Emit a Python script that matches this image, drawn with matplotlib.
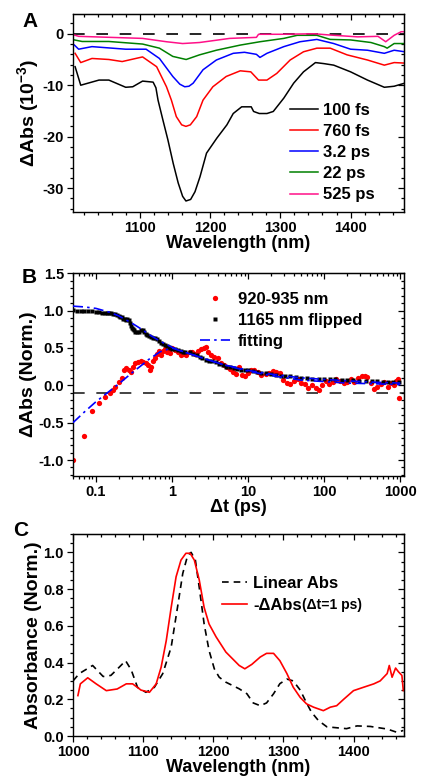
import matplotlib
matplotlib.use('Agg')
import matplotlib.pyplot as plt
from matplotlib.ticker import MultipleLocator, LogLocator, NullFormatter, FuncFormatter
import numpy as np

plt.rcParams['font.family'] = ['Liberation Sans', 'DejaVu Sans']
plt.rcParams['font.weight'] = 'bold'
plt.rcParams['axes.labelweight'] = 'bold'
plt.rcParams['axes.unicode_minus'] = False
plt.rcParams['mathtext.fontset'] = 'custom'
plt.rcParams['mathtext.rm'] = 'Liberation Sans:bold'
plt.rcParams['mathtext.default'] = 'rm'
plt.rcParams['lines.solid_joinstyle'] = 'round'

# ---------------- panel A : transient spectra (10^-3) ----------------
a_wl_100fs = [1008, 1016, 1042, 1056, 1080, 1090, 1104, 1119, 1123, 1126, 1133, 1140, 1147.6, 1154.7,
              1161, 1165.7, 1172.4, 1178.6, 1185.7, 1195, 1209.6, 1224, 1233, 1245, 1258.6, 1262,
              1270, 1281, 1290, 1305, 1319, 1333, 1350, 1362, 1376, 1400, 1424, 1448, 1462, 1477]
a_100fs = [-6.4, -10.0, -9.0, -9.0, -10.4, -10.3, -9.2, -9.4, -10.5, -12.9, -16.8, -20.6, -25.2, -29.0,
           -31.6, -32.5, -32.2, -30.7, -27.8, -23.2, -20.3, -17.7, -15.5, -14.2, -14.2, -15.1,
           -15.5, -15.5, -15.1, -12.5, -9.6, -7.4, -5.6, -5.8, -6.1, -7.4, -9.0, -10.4, -10.2, -9.6]

a_wl_760fs = [1008, 1016, 1032, 1056, 1075, 1104, 1124, 1138, 1145, 1152, 1159.6, 1165.7, 1172, 1181,
              1190, 1204, 1223, 1243, 1258, 1269, 1281, 1295, 1314, 1333, 1352, 1371, 1395, 1424,
              1448, 1462, 1477]
a_760fs = [-3.8, -5.6, -4.8, -5.0, -5.4, -4.5, -6.4, -10.3, -12.9, -16.1, -17.7, -18.0, -17.7, -16.1,
           -12.9, -10.3, -8.3, -7.2, -7.4, -9.0, -9.0, -7.7, -5.1, -3.5, -2.8, -2.8, -4.1, -5.1,
           -6.1, -5.6, -5.7]

a_wl_3ps = [1007, 1013, 1032, 1080, 1109, 1128, 1147, 1157, 1164, 1170, 1176, 1190, 1209, 1233,
            1249, 1266, 1271, 1281, 1305, 1328, 1352, 1376, 1400, 1424, 1448, 1462, 1477]
a_3ps = [-2.2, -3.0, -2.5, -3.0, -3.0, -4.8, -8.3, -9.8, -10.3, -10.2, -9.6, -7.0, -5.1, -3.8,
         -3.6, -4.0, -4.6, -3.8, -2.5, -1.55, -1.1, -1.9, -3.0, -3.2, -3.8, -3.2, -3.5]

a_wl_22ps = [1007, 1018, 1056, 1104, 1128, 1147, 1166, 1185, 1209, 1243, 1271, 1305, 1324, 1352,
             1371, 1400, 1429, 1448, 1452, 1462, 1477]
a_22ps = [-1.2, -1.5, -1.5, -2.0, -2.8, -4.4, -5.0, -4.1, -3.2, -2.2, -1.55, -0.9, -0.3, -0.3,
          -1.1, -1.2, -1.7, -2.5, -2.8, -1.9, -1.9]

a_wl_525ps = [1007, 1013, 1104, 1138, 1161, 1185, 1228, 1266, 1269, 1274, 1300, 1348, 1371, 1410,
              1439, 1450, 1462, 1472, 1477]
a_525ps = [-0.25, -0.5, -0.9, -1.55, -1.9, -1.7, -0.9, -0.7, -0.1, -0.1, -0.1, 0.0, -0.25, -0.6,
           -0.5, -1.55, -0.3, 0.4, 0.4]

a_labels = ['100 fs', '760 fs', '3.2 ps', '22 ps', '525 ps']
a_colors = ['black', '#ff0000', '#0000ff', '#008000', '#ff1088']

# ---------------- panel B : kinetics ----------------
b_t_red = [0.05, 0.07, 0.09, 0.11, 0.13, 0.155, 0.17, 0.18, 0.2, 0.22, 0.235, 0.25, 0.27, 0.29, 0.31,
           0.33, 0.36, 0.39, 0.42, 0.45, 0.48, 0.51, 0.53, 0.56, 0.6, 0.64, 0.68, 0.72, 0.76, 0.8,
           0.85, 0.9, 0.95, 1.0, 1.1, 1.2, 1.3, 1.4, 1.55, 1.7, 1.85, 2.0, 2.2, 2.4, 2.6, 2.8, 3.0,
           3.3, 3.6, 4.0, 4.4, 4.8, 5.3, 5.8, 6.3, 6.9, 7.5, 8.2, 9, 10, 11, 12, 13.5, 15, 17, 19,
           21, 23, 26, 29, 32, 36, 40, 45, 50, 56, 62, 70, 78, 86, 95, 105, 115, 130, 145, 160, 180,
           200, 225, 250, 280, 310, 340, 370, 410, 450, 500, 560, 620, 680, 750, 820, 880, 930, 960]
b_red = [-1.0, -0.68, -0.35, -0.24, -0.15, -0.10, -0.06, -0.02, 0.04, 0.10, 0.20, 0.23, 0.21, 0.18, 0.25,
         0.30, 0.31, 0.33, 0.31, 0.30, 0.27, 0.20, 0.25, 0.33, 0.37, 0.42, 0.46, 0.40, 0.46, 0.48,
         0.44, 0.49, 0.43, 0.50, 0.47, 0.44, 0.40, 0.42, 0.40, 0.44, 0.45, 0.42, 0.46, 0.49, 0.50, 0.51, 0.44,
         0.41, 0.38, 0.37, 0.30, 0.27, 0.25, 0.22, 0.18, 0.15, 0.24, 0.14, 0.12, 0.16, 0.20, 0.21, 0.18, 0.14, 0.15, 0.17,
         0.19, 0.18, 0.16, 0.07, 0.03, 0.02, 0.06, 0.08, 0.03, 0.02, -0.03, 0.00, -0.04, -0.06, 0.00, 0.06, 0.02, 0.04, 0.08, 0.06, 0.03,
         0.05, 0.09, 0.05, 0.10, 0.12, 0.13, 0.11, 0.03, -0.05, -0.02, 0.02, 0.04, -0.02, 0.03, 0.00, 0.06, 0.09, -0.17]

b_t_black = [0.05, 0.056, 0.063, 0.07, 0.079, 0.088, 0.1, 0.11, 0.12, 0.13, 0.14, 0.15, 0.16, 0.17, 0.18,
             0.19, 0.2, 0.21, 0.22, 0.23, 0.24, 0.25, 0.26, 0.27, 0.28, 0.29, 0.30, 0.31, 0.32, 0.33,
             0.35, 0.37, 0.39, 0.41, 0.43, 0.45, 0.47, 0.5, 0.53, 0.56, 0.6, 0.64, 0.68, 0.72, 0.76,
             0.8, 0.85, 0.9, 0.95, 1.0, 1.1, 1.2, 1.3, 1.4, 1.5, 1.7, 1.9, 2.1, 2.3, 2.5, 2.8, 3.1,
             3.4, 3.8, 4.2, 4.7, 5.2, 5.8, 6.5, 7.2, 8, 9, 10, 11.5, 13, 15, 17, 20, 23, 27, 31, 36,
             42, 50, 60, 70, 85, 100, 120, 140, 170, 200, 240, 290, 350, 420, 500, 600, 700, 800, 950]
b_black = [1.01, 1.0, 1.0, 1.0, 0.99, 0.99, 0.98, 0.98, 0.97, 0.97, 0.97, 0.97, 0.97, 0.96, 0.95,
           0.94, 0.93, 0.92, 0.91, 0.89, 0.89, 0.88, 0.89, 0.87, 0.84, 0.80, 0.77, 0.75, 0.74, 0.72,
           0.71, 0.72, 0.74, 0.74, 0.72, 0.69, 0.67, 0.66, 0.65, 0.64, 0.64, 0.62, 0.60, 0.57, 0.55,
           0.54, 0.52, 0.51, 0.50, 0.49, 0.48, 0.47, 0.46, 0.45, 0.45, 0.44, 0.42, 0.40, 0.38, 0.36, 0.34, 0.33,
           0.33, 0.31, 0.29, 0.27, 0.25, 0.24, 0.23, 0.22, 0.21, 0.21, 0.20, 0.19, 0.18, 0.17, 0.16, 0.15, 0.14, 0.13, 0.12, 0.12,
           0.11, 0.10, 0.10, 0.09, 0.09, 0.08, 0.08, 0.08, 0.07, 0.07, 0.07, 0.06, 0.06, 0.06, 0.06, 0.05, 0.05, 0.05, 0.05]

b_t_fit = [0.05, 0.07, 0.1, 0.15, 0.2, 0.3, 0.4, 0.5, 0.7, 1, 1.5, 2, 3, 5, 7, 10, 20, 50, 100, 200, 500, 1000]
b_fit_decay = [1.06, 1.05, 1.03, 0.98, 0.93, 0.83, 0.75, 0.68, 0.59, 0.51, 0.44, 0.40, 0.34, 0.27, 0.24,
               0.20, 0.15, 0.10, 0.08, 0.06, 0.04, 0.03]
b_fit_rise = [-0.50, -0.36, -0.22, -0.08, 0.02, 0.17, 0.27, 0.35, 0.45, 0.50, 0.44, 0.40, 0.34, 0.27, 0.23,
              0.19, 0.13, 0.07, 0.05, 0.03, 0.02, 0.01]

# ---------------- panel C : normalised absorbance ----------------
c_wl_lin = [1000, 1009, 1028, 1043, 1054, 1066, 1075, 1083, 1092, 1104, 1116, 1128, 1140, 1149, 1156.5,
            1163.6, 1168.4, 1174.5, 1180, 1187, 1194, 1201.5, 1208.5, 1218, 1237, 1248, 1257, 1267,
            1276, 1286, 1295, 1305, 1314, 1324, 1333, 1340, 1350, 1362, 1381, 1390, 1405, 1424, 1448,
            1462, 1471]
c_lin = [0.30, 0.34, 0.384, 0.324, 0.33, 0.375, 0.41, 0.36, 0.265, 0.238, 0.265, 0.34, 0.484, 0.70, 0.885,
         0.985, 1.0, 0.958, 0.81, 0.61, 0.466, 0.366, 0.32, 0.293, 0.257, 0.23, 0.18, 0.165,
         0.18, 0.23, 0.285, 0.31, 0.30, 0.25, 0.18, 0.13, 0.084, 0.05, 0.043, 0.04, 0.055, 0.052, 0.038,
         0.02, 0.03]

c_wl_dabs = [1007, 1010.5, 1021, 1033, 1047.5, 1063, 1076, 1085, 1097, 1109, 1118.6, 1125.7, 1133, 1140,
             1147, 1154, 1161, 1167, 1173, 1180, 1187, 1194, 1204, 1218, 1237, 1245, 1255, 1267, 1276,
             1286, 1295, 1305, 1314, 1324, 1333, 1343, 1357, 1367, 1376, 1386, 1400, 1414, 1429, 1438,
             1448, 1451, 1455, 1460, 1464, 1469, 1471]
c_dabs = [0.22, 0.284, 0.317, 0.284, 0.247, 0.256, 0.284, 0.284, 0.25, 0.238, 0.284, 0.375, 0.52, 0.70,
          0.867, 0.958, 0.995, 0.995, 0.958, 0.85, 0.70, 0.61, 0.54, 0.457, 0.384, 0.366, 0.39, 0.43, 0.45,
          0.45, 0.41, 0.34, 0.266, 0.21, 0.175, 0.157, 0.138, 0.157, 0.165, 0.20, 0.247, 0.265, 0.284, 0.30,
          0.34, 0.384, 0.32, 0.37, 0.35, 0.33, 0.247]

W, H = 422, 778
fig = plt.figure(figsize=(W / 100, H / 100), dpi=100)
TICK = 10.5
LAB = 13
YLAB = 14
LEG = 12


def style(ax, xmaj, xmin, ymaj, ymin, logx=False):
    ax.tick_params(which='both', direction='out', top=False, right=False, labelsize=TICK, width=0.9, pad=2.5)
    ax.tick_params(which='major', length=4)
    ax.tick_params(which='minor', length=2)
    for s in ax.spines.values():
        s.set_linewidth(1.0)
    if not logx:
        ax.xaxis.set_major_locator(MultipleLocator(xmaj))
        ax.xaxis.set_minor_locator(MultipleLocator(xmin))
    ax.yaxis.set_major_locator(MultipleLocator(ymaj))
    ax.yaxis.set_minor_locator(MultipleLocator(ymin))
    top = ax.secondary_xaxis('top')
    right = ax.secondary_yaxis('right')
    if logx:
        top.xaxis.set_major_locator(LogLocator(base=10))
        top.xaxis.set_minor_locator(LogLocator(base=10, subs=np.arange(2, 10)))
    else:
        top.xaxis.set_major_locator(MultipleLocator(xmaj))
        top.xaxis.set_minor_locator(MultipleLocator(xmin))
    right.yaxis.set_major_locator(MultipleLocator(ymaj))
    right.yaxis.set_minor_locator(MultipleLocator(ymin))
    for sec in (top, right):
        sec.tick_params(which='both', direction='in', width=0.9)
        sec.tick_params(which='major', length=4)
        sec.tick_params(which='minor', length=2)
    top.xaxis.set_major_formatter(NullFormatter())
    top.xaxis.set_minor_formatter(NullFormatter())
    right.yaxis.set_major_formatter(NullFormatter())


# ---- A ----
axA = fig.add_axes([73 / W, 1 - 212.3 / H, 331 / W, 198.6 / H])
a_x = [a_wl_100fs, a_wl_760fs, a_wl_3ps, a_wl_22ps, a_wl_525ps]
a_y = [a_100fs, a_760fs, a_3ps, a_22ps, a_525ps]
for xs, ys, lab, col in zip(a_x, a_y, a_labels, a_colors):
    axA.plot(xs, ys, color=col, lw=1.1, label=lab)
axA.axhline(0, color='black', lw=1.2, dashes=(7, 7), zorder=0)
axA.set_xlim(1005, 1476)
axA.set_ylim(-34.7, 3.9)
style(axA, 100, 20, 10, 2)
axA.set_xlabel('Wavelength (nm)', fontsize=LAB, labelpad=0)
axA.set_ylabel('ΔAbs (10$^{-3}$)', fontsize=YLAB, labelpad=1)
axA.legend(loc='upper left', bbox_to_anchor=(0.656, 0.552), frameon=False, fontsize=LEG,
           handlelength=1.65, handletextpad=0.3, labelspacing=0.37, borderpad=0, borderaxespad=0)

# ---- B ----
axB = fig.add_axes([73 / W, 1 - 475.7 / H, 331 / W, 202.4 / H])
axB.set_xscale('log')
axB.axhline(-0.1, color='#222222', lw=1.2, dashes=(7, 7), zorder=0)
axB.plot(b_t_red, b_red, 'o', color='#ff0000', ms=3.8, mec='none', label='920-935 nm', zorder=2)
axB.plot(b_t_black, b_black, 's', color='black', ms=3.0, mec='none', label='1165 nm flipped', zorder=3)
axB.plot(b_t_fit, b_fit_decay, color='#0000ff', lw=1.2, dashes=(6, 2.5, 1.5, 2.5), label='fitting', zorder=4)
axB.plot(b_t_fit, b_fit_rise, color='#0000ff', lw=1.2, dashes=(6, 2.5, 1.5, 2.5), zorder=4)
axB.set_xlim(0.05, 1120)
axB.set_ylim(-1.21, 1.5)
style(axB, None, None, 0.5, 0.1, logx=True)
axB.xaxis.set_major_locator(LogLocator(base=10))
axB.xaxis.set_minor_locator(LogLocator(base=10, subs=np.arange(2, 10)))
axB.xaxis.set_minor_formatter(NullFormatter())
axB.xaxis.set_major_formatter(FuncFormatter(lambda v, p: '%g' % v))
axB.set_xlabel('Δt (ps)', fontsize=LAB, labelpad=0)
axB.set_ylabel('ΔAbs (Norm.)', fontsize=YLAB, labelpad=1)
axB.legend(loc='upper left', bbox_to_anchor=(0.384, 0.909), frameon=False, fontsize=LEG, numpoints=1,
           handlelength=1.8, handletextpad=0.48, labelspacing=0.37, borderpad=0, borderaxespad=0)

# ---- C ----
axC = fig.add_axes([73 / W, 1 - 736 / H, 331 / W, 202 / H])
axC.plot(c_wl_lin, c_lin, color='black', lw=1.2, dashes=(4, 3), label='Linear Abs')
axC.plot(c_wl_dabs, c_dabs, color='#ff0000', lw=1.2, label='-ΔAbs')
axC.set_xlim(1000, 1472)
axC.set_ylim(0, 1.1)
style(axC, 100, 20, 0.2, 0.05)
axC.set_xlabel('Wavelength (nm)', fontsize=LAB, labelpad=0)
axC.set_ylabel('Absorbance (Norm.)', fontsize=YLAB, labelpad=1)
legC = axC.legend(loc='upper left', bbox_to_anchor=(0.45, 0.791), frameon=False, fontsize=LEG,
                  handlelength=1.5, handletextpad=0.36, labelspacing=0.42, borderpad=0, borderaxespad=0)

# panel letters
fig.text(22 / W, 1 - 12 / H, 'A', fontsize=15, fontweight='bold', va='top')
fig.text(22 / W, 1 - 268 / H, 'B', fontsize=15, fontweight='bold', va='top')
fig.text(13 / W, 1 - 521 / H, 'C', fontsize=15, fontweight='bold', va='top')

# smaller "(Δt=1 ps)" after the legend label of panel C
fig.canvas.draw()
bb = legC.get_texts()[1].get_window_extent()
fig.text(bb.x1 / W + 0.002, (bb.y0 + 4) / H, '(Δt=1 ps)', fontsize=10, fontweight='bold', va='baseline')

fig.savefig('out.png', dpi=100)
